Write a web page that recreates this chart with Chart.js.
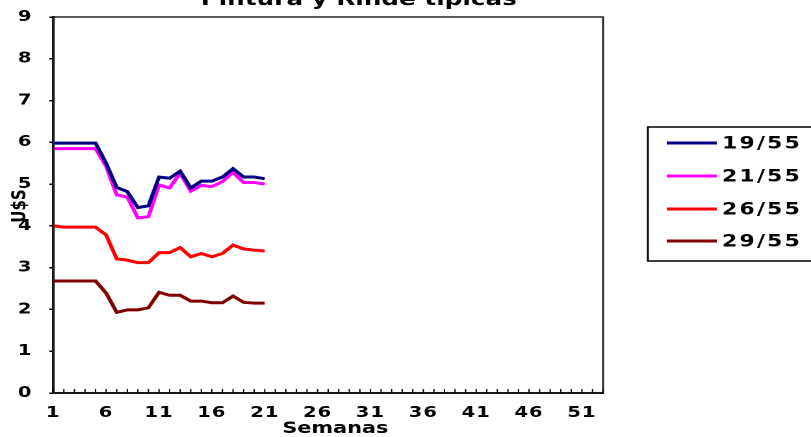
<!DOCTYPE html>
<html><head><meta charset="utf-8">
<script src="https://cdn.jsdelivr.net/npm/chart.js@4/dist/chart.umd.min.js"></script>
<style>html,body{margin:0;padding:0;background:#fff;overflow:hidden}#wrap{position:relative;width:811px;height:437px}#c{display:block}</style>
</head><body><div id="wrap"><canvas id="c" width="624" height="437" style="width:811px;height:437px"></canvas></div>
<script>
const weeks = [1,2,3,4,5,6,7,8,9,10,11,12,13,14,15,16,17,18,19,20,21,22,23,24,25,26,27,28,29,30,31,32,33,34,35,36,37,38,39,40,41,42,43,44,45,46,47,48,49,50,51,52,53];
const seriesNames = ['19/55','21/55','26/55','29/55'];
const s1955 = [5.98,5.98,5.98,5.98,5.98,5.5,4.92,4.82,4.44,4.48,5.17,5.14,5.31,4.91,5.07,5.07,5.17,5.37,5.17,5.17,5.13];
const s2155 = [5.85,5.85,5.85,5.85,5.85,5.42,4.74,4.69,4.19,4.22,4.98,4.91,5.26,4.83,4.97,4.94,5.06,5.28,5.04,5.04,5.0];
const s2655 = [4.0,3.97,3.97,3.97,3.97,3.78,3.21,3.18,3.12,3.12,3.36,3.36,3.48,3.26,3.34,3.26,3.34,3.54,3.45,3.42,3.4];
const s2955 = [2.68,2.68,2.68,2.68,2.68,2.39,1.93,1.99,1.99,2.04,2.41,2.34,2.34,2.2,2.2,2.16,2.16,2.32,2.17,2.15,2.15];
const yTicks = [0,1,2,3,4,5,6,7,8,9];
const colors = ['#000080','#FF00FF','#FF0000','#800000'];
const titleText = 'Pintura y Rinde típicas';
const xTitle = 'Semanas';
const yTitle = 'U$S';
const FONT = '"DejaVu Sans", Verdana, sans-serif';

const decor = {
  id: 'decor',
  beforeDraw(chart) {
    chart.ctx.letterSpacing = '0.8px';
  },
  afterDraw(chart) {
    const ctx = chart.ctx, a = chart.chartArea, xs = chart.scales.x;
    ctx.save();
    ctx.letterSpacing = '0px';
    ctx.strokeStyle = '#222';
    ctx.lineWidth = 1.5;
    ctx.strokeRect(a.left, a.top, a.right - a.left, a.bottom - a.top);
    ctx.lineWidth = 1;
    ctx.strokeStyle = '#000';
    for (let i = 0; i < weeks.length; i++) {
      const x = xs.getPixelForValue(i);
      ctx.beginPath(); ctx.moveTo(x, a.bottom); ctx.lineTo(x, a.bottom - 4); ctx.stroke();
    }
    ctx.fillStyle = '#000';
    ctx.font = 'bold 19px ' + FONT;
    ctx.textAlign = 'center';
    ctx.textBaseline = 'alphabetic';
    ctx.fillText(titleText, 276, 5);
    ctx.font = 'bold 16px ' + FONT;
    ctx.textBaseline = 'middle';
    ctx.fillText(xTitle, 258, 429);
    ctx.save();
    ctx.translate(15.5, 206);
    ctx.rotate(-Math.PI / 2);
    ctx.font = 'bold 15px ' + FONT;
    ctx.fillText(yTitle, 0, 0);
    ctx.restore();
    const lx = 498.5, ly = 127, lw = 140, lh = 134;
    ctx.strokeStyle = '#000';
    ctx.lineWidth = 1.5;
    ctx.strokeRect(lx, ly, lw, lh);
    const rows = [143, 176, 209, 241];
    ctx.font = 'bold 17px ' + FONT;
    ctx.letterSpacing = '1.6px';
    ctx.textAlign = 'left';
    ctx.textBaseline = 'middle';
    chart.data.datasets.forEach((ds, i) => {
      ctx.strokeStyle = ds.borderColor;
      ctx.lineWidth = 3;
      ctx.beginPath(); ctx.moveTo(513, rows[i]); ctx.lineTo(551.5, rows[i]); ctx.stroke();
      ctx.fillStyle = '#000';
      ctx.fillText(ds.label, 555.5, rows[i] + 1);
    });
    ctx.restore();
  }
};

new Chart(document.getElementById('c'), {
  type: 'line',
  data: {
    labels: weeks,
    datasets: [s1955, s2155, s2655, s2955].map((d, i) => ({
      label: seriesNames[i], data: d, borderColor: colors[i], backgroundColor: colors[i],
      borderWidth: 3, pointRadius: 0, tension: 0, fill: false
    }))
  },
  options: {
    responsive: false, maintainAspectRatio: false, animation: false, devicePixelRatio: 2,
    layout: { padding: { top: 17, right: 160, left: 0, bottom: 0 } },
    plugins: { legend: { display: false }, title: { display: false }, tooltip: { enabled: false } },
    scales: {
      x: {
        type: 'category', offset: false,
        grid: { display: false, drawTicks: false },
        border: { display: true, color: '#000', width: 2 },
        ticks: {
          autoSkip: false, maxRotation: 0, minRotation: 0, padding: 11, color: '#000',
          font: { family: FONT, size: 15, weight: 'bold' },
          callback: (v, i) => (i % 5 === 0 ? String(weeks[i]) : '')
        },
        title: { display: false },
        afterFit: s => { s.height = 44; s.paddingLeft = 0; s.paddingRight = 0; }
      },
      y: {
        min: 0, max: 9,
        afterBuildTicks: s => { s.ticks = yTicks.map(v => ({ value: v })); },
        grid: { display: true, drawOnChartArea: false, drawTicks: true, tickLength: 3, color: '#000', lineWidth: 1.5 },
        border: { display: true, color: '#000', width: 2 },
        ticks: { padding: 13, color: '#000', font: { family: FONT, size: 15, weight: 'bold' } },
        title: { display: false },
        afterFit: s => { s.width = 41; s.paddingTop = 0; s.paddingBottom = 0; }
      }
    }
  },
  plugins: [decor]
});
</script></body></html>
